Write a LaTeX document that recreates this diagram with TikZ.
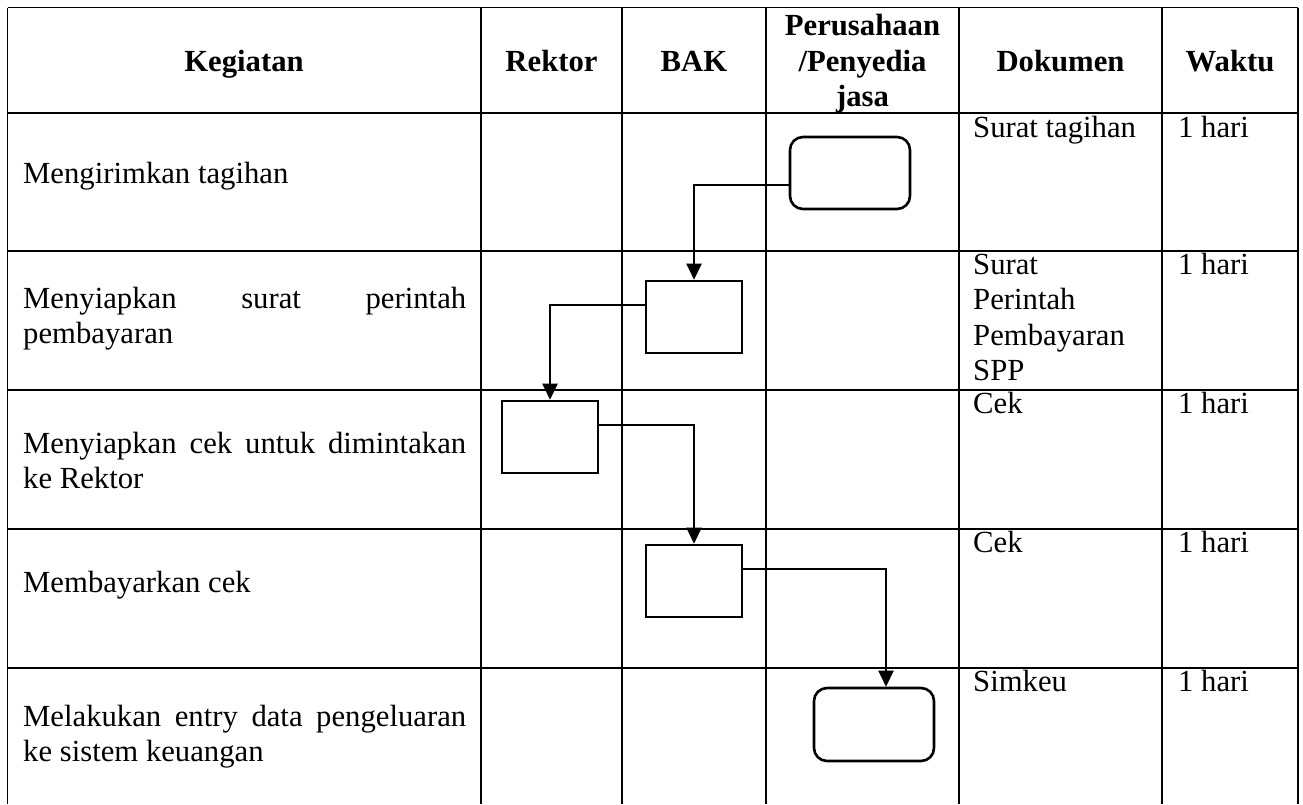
\documentclass[tikz,border=0pt]{standalone}
\usepackage{fontspec}
\setmainfont{Liberation Serif}
\usetikzlibrary{arrows.meta}
\hyphenpenalty=10000
\exhyphenpenalty=10000
\tikzset{
  grid/.style={line width=1.4pt,draw=black},
  cell/.style={inner sep=0pt,font=\fontsize{30.7}{35.5}\selectfont},
  head/.style={cell,font=\fontsize{30.7}{35.5}\selectfont\bfseries,align=flush center},
  task/.style={cell,anchor=base west,text width=443pt,align=justify},
  note/.style={cell,anchor=base west,text width=180pt,align=flush left},
  procbox/.style={rectangle,draw=black,line width=2.6pt,minimum width=96pt,
    minimum height=72pt,inner sep=0pt},
  termbox/.style={procbox,rounded corners=13pt,minimum width=120pt},
  arrow/.style={-{Triangle[length=16pt,width=15pt]},line width=2.4pt,draw=black}
}

\begin{document}
\begin{tikzpicture}[x=1pt,y=-1pt]
\useasboundingbox[fill=white] (0,0) rectangle (1303,804);
% table
\foreach \y in {7.5,113,251,390,529,668} \draw[grid] (7.5,\y) -- (1298,\y);
\foreach \x in {7.5,481,622,766,959,1162,1298} \draw[grid] (\x,7.5) -- (\x,804);
% header
\node[head,anchor=base] (hkeg) at (244,71) {Kegiatan};
\node[head,anchor=base] (hrek) at (551.5,71) {Rektor};
\node[head,anchor=base] (hbak) at (694,71) {BAK};
\node[head] (hper) at (862.5,64) {Perusahaan\\/Penyedia\\jasa};
\node[head,anchor=base] (hdok) at (1060.5,71) {Dokumen};
\node[head,anchor=base] (hwak) at (1230,71) {Waktu};
% kegiatan
\node[task] (k1) at (23,183) {Mengirimkan tagihan};
\node[task] (k2) at (23,308) {Menyiapkan surat perintah\linebreak pembayaran};
\node[task] (k3) at (23,453) {Menyiapkan cek untuk dimintakan\linebreak ke Rektor};
\node[task] (k4) at (23,592) {Membayarkan cek};
\node[task] (k5) at (23,726) {Melakukan entry data pengeluaran\linebreak ke sistem keuangan};
% dokumen and waktu
\node[note] (d1) at (973,137) {Surat tagihan};
\node[note] (d2) at (973,274) {Surat\\Perintah\\Pembayaran\\SPP};
\node[note] (d3) at (973,413) {Cek};
\node[note] (d4) at (973,552) {Cek};
\node[note] (d5) at (973,691) {Simkeu};
\foreach \r/\y in {1/137,2/274,3/413,4/552,5/691}
  \node[note,text width=100pt] (w\r) at (1178,\y) {1 hari};
% flow
\node[termbox] (tagih) at (850,173) {};
\node[procbox] (spp) at (694,317) {};
\node[procbox] (cek) at (550,437) {};
\node[procbox] (bayar) at (694,581) {};
\node[termbox,minimum height=73pt] (simk) at (874,724.5) {};
\draw[arrow] ([yshift=-12pt]tagih.west) -| (spp.north);
\draw[arrow] ([yshift=12pt]spp.west) -| (cek.north);
\draw[arrow] ([yshift=12pt]cek.east) -| (bayar.north);
\draw[arrow] ([yshift=12pt]bayar.east) -| ([xshift=12pt]simk.north);
\end{tikzpicture}
\end{document}
